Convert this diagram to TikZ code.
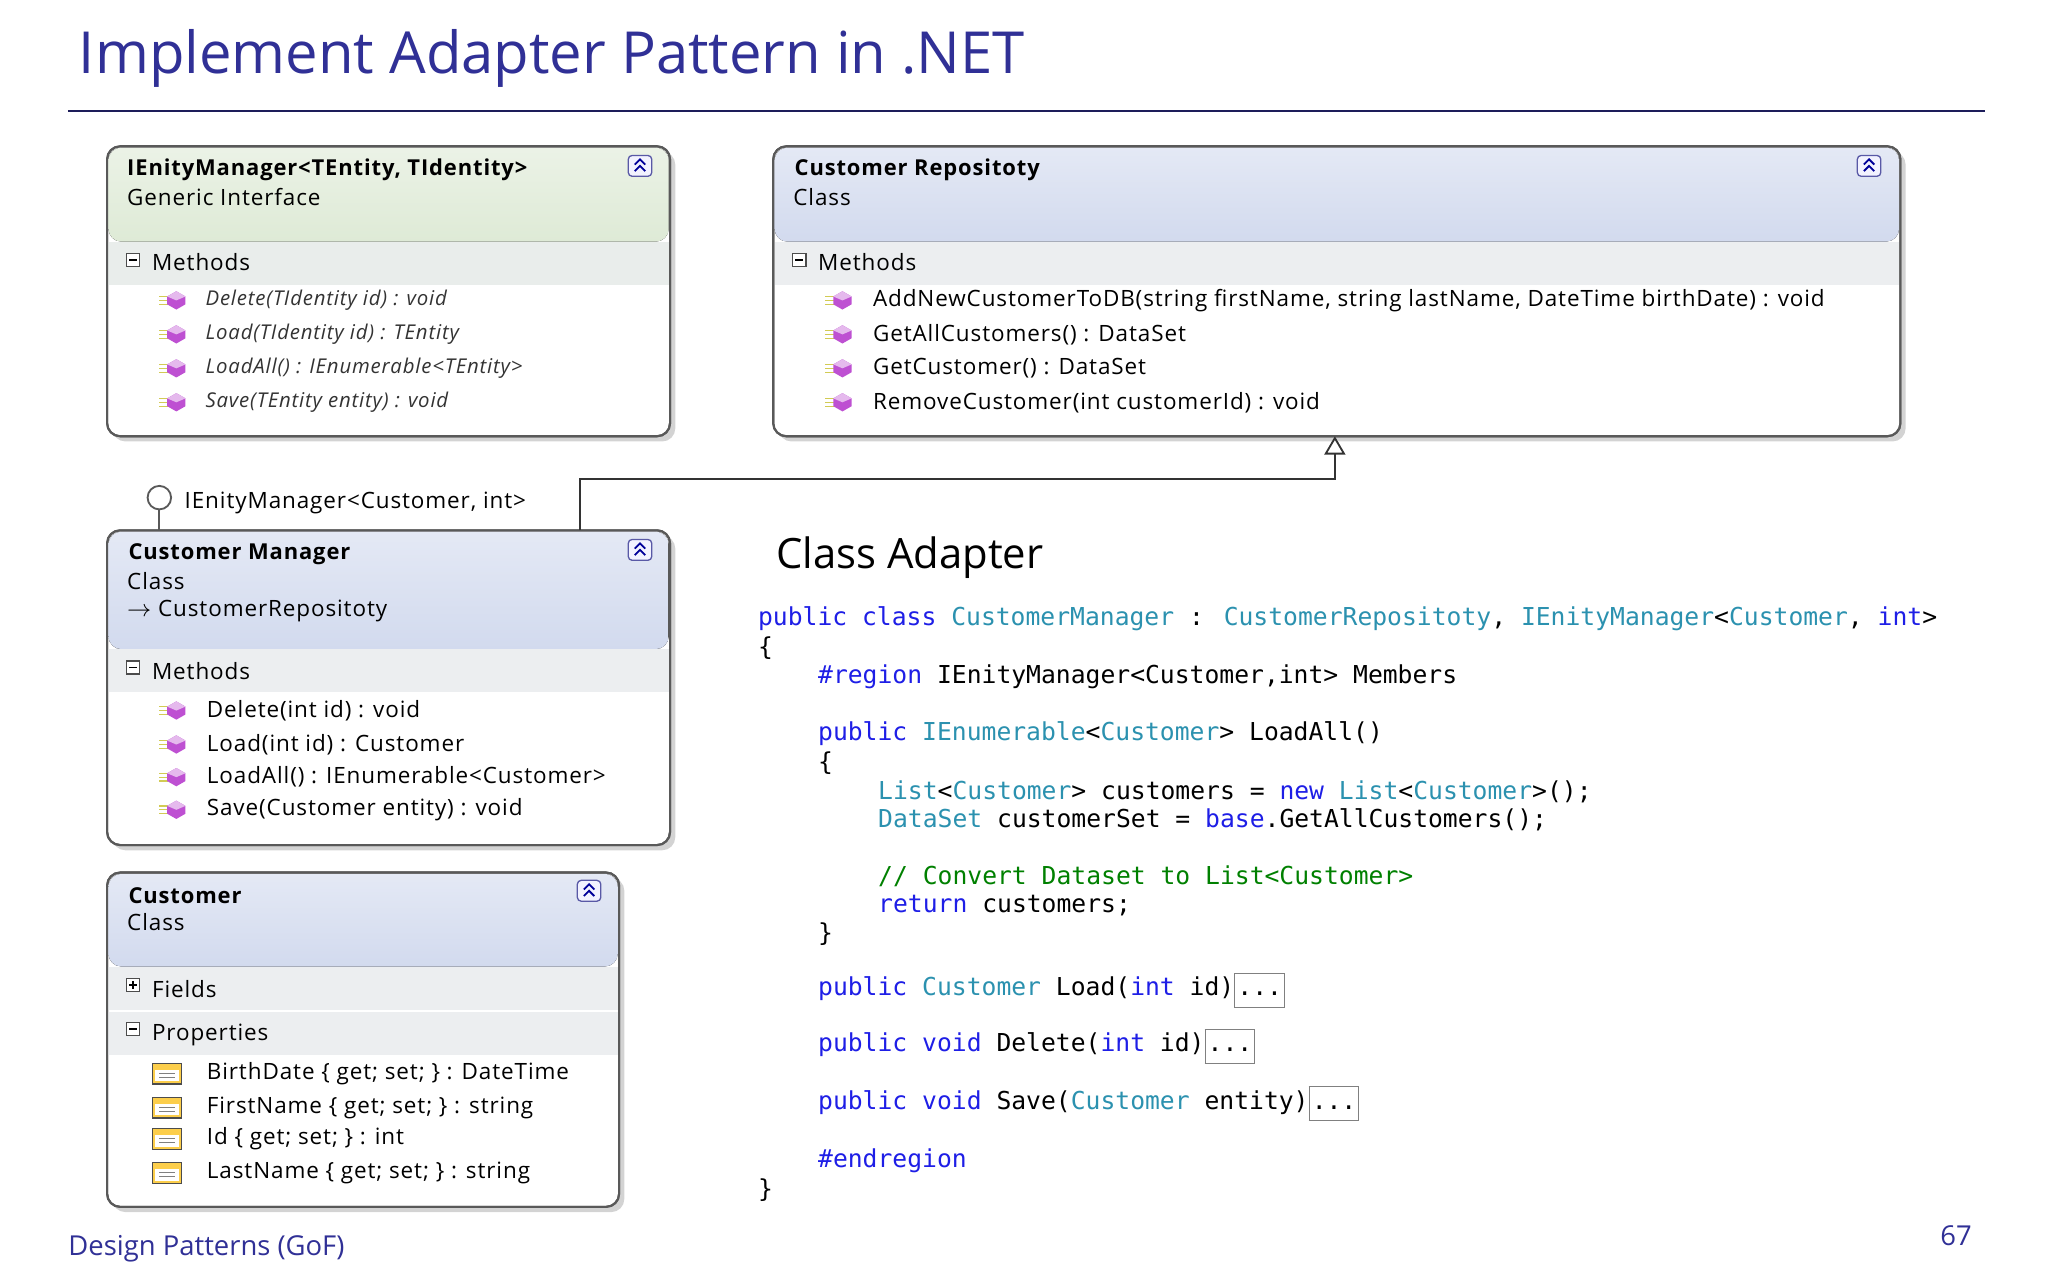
\documentclass[tikz,border=0pt]{standalone}
\usepackage{fontspec}
\setmainfont{Open Sans}
\newfontfamily\codefont{DejaVu Sans Mono}
\newfontfamily\boxfont[LetterSpace=4]{Open Sans}
\usetikzlibrary{arrows.meta,shadows}
\definecolor{ttl}{RGB}{48,48,150}
\definecolor{kwc}{RGB}{30,30,230}
\definecolor{tyc}{RGB}{43,145,175}
\definecolor{cmc}{RGB}{0,128,0}
\definecolor{hdgreen}{RGB}{222,234,214}
\definecolor{hdblue}{RGB}{210,218,238}
\definecolor{bar}{RGB}{236,238,240}
\definecolor{purp}{RGB}{190,80,210}
\newcommand{\kw}[1]{\textcolor{kwc}{#1}}
\newcommand{\ty}[1]{\textcolor{tyc}{#1}}
\newcommand{\cm}[1]{\textcolor{cmc}{#1}}
\newcommand{\cbox}{\setlength\fboxsep{0.8pt}\setlength\fboxrule{0.4pt}\fcolorbox{gray}{white}{\strut...}}
\tikzset{
 umlbox/.style={draw=gray!70!black, line width=0.8pt, rounded corners=5pt, fill=white, drop shadow={shadow xshift=2pt,shadow yshift=-2pt,opacity=0.35}},
 boxline/.style={draw=gray!70!black, line width=0.8pt, rounded corners=5pt},
 txt/.style={anchor=west, inner sep=0pt, font=\fontsize{8.6}{9}\boxfont},
 ttxt/.style={anchor=west, inner sep=0pt, font=\fontsize{8.4}{9}\boxfont\bfseries},
 mtxt/.style={anchor=west, inner sep=0pt, font=\fontsize{7.8}{9}\boxfont\itshape, text=black!80},
 code/.style={anchor=west, inner sep=0pt, font=\fontsize{9.45}{11}\codefont},
}
\newcommand{\micon}[2]{%
 \draw[yellow!60!gray, line width=0.5pt] (#1-12,#2-3) -- (#1-5,#2-3) (#1-12,#2) -- (#1-5,#2) (#1-12,#2+3) -- (#1-5,#2+3);
 \fill[purp] (#1+1,#2-7) -- (#1+8,#2-3) -- (#1+8,#2+3) -- (#1+1,#2+7) -- (#1-6,#2+3) -- (#1-6,#2-3) -- cycle;
 \fill[purp!40] (#1+1,#2-7) -- (#1+8,#2-3) -- (#1+1,#2) -- (#1-6,#2-3) -- cycle;}
\newcommand{\picon}[2]{%
 \fill[yellow!50!orange!70] (#1-11,#2-8) rectangle (#1+11,#2+8);
 \draw[gray!60!black, line width=0.5pt] (#1-11,#2-8) rectangle (#1+11,#2+8);
 \fill[white] (#1-9,#2-3) rectangle (#1+9,#2+6);
 \draw[gray, line width=0.4pt] (#1-6,#2) -- (#1+6,#2) (#1-6,#2+3) -- (#1+6,#2+3);}
\newcommand{\chev}[2]{%
 \draw[gray!70!blue, line width=0.5pt, rounded corners=1.5pt, fill=blue!5] (#1-9,#2-8) rectangle (#1+9,#2+8);
 \draw[blue!60!black, line width=0.7pt] (#1-4,#2-1) -- (#1,#2-5) -- (#1+4,#2-1) (#1-4,#2+4) -- (#1,#2) -- (#1+4,#2+4);}
\newcommand{\minus}[2]{\draw[gray!60!black, line width=0.5pt, fill=white] (#1-5,#2-5) rectangle (#1+5,#2+5); \draw[line width=0.6pt] (#1-3,#2) -- (#1+3,#2);}
\newcommand{\plus}[2]{\minus{#1}{#2}\draw[line width=0.6pt] (#1,#2-3) -- (#1,#2+3);}
\begin{document}
\begin{tikzpicture}[x=0.5pt,y=-0.5pt]
\useasboundingbox (0,0) rectangle (1568,980);
\node[anchor=west, inner sep=0pt, text=ttl, font=\fontsize{22.2}{26}\selectfont] (title) at (60,45) {Implement Adapter Pattern in .NET};
\draw[ttl!60!black, line width=0.8pt] (52,85) -- (1520,85);
% Box 1
\path[umlbox] (82,112) rectangle (513,334);
\fill[top color=hdgreen!60, bottom color=hdgreen, rounded corners=5pt] (83,113) rectangle (512,185);
\fill[bar!80!hdgreen] (83,185) rectangle (512,218);
\path[boxline] (82,112) rectangle (513,334);
\node[ttxt] (b1t) at (97,130) {IEnityManager<TEntity, TIdentity>};
\node[txt] (b1s) at (97,151) {Generic Interface};
\chev{490}{127}
\minus{102}{199}
\node[txt] (b1m) at (116,201) {Methods};
\foreach \y/\t in {230/{Delete(TIdentity id) : void},256/{Load(TIdentity id) : TEntity},282/{LoadAll() : IEnumerable<TEntity>},308/{Save(TEntity entity) : void}}{
 \micon{134}{\y}
 \node[mtxt] at (157,\y) {\t};}
% Box 2
\path[umlbox] (592,112) rectangle (1455,334);
\fill[top color=hdblue!60, bottom color=hdblue, rounded corners=5pt] (593,113) rectangle (1454,185);
\fill[bar] (593,185) rectangle (1454,218);
\path[boxline] (592,112) rectangle (1455,334);
\node[ttxt] (b2t) at (608,130) {Customer Repositoty};
\node[txt] (b2s) at (607,151) {Class};
\chev{1431}{127}
\minus{612}{199}
\node[txt] (b2m) at (626,201) {Methods};
\foreach \y/\t in {230/{AddNewCustomerToDB(string firstName, string lastName, DateTime birthDate) : void},256/{GetAllCustomers() : DataSet},282/{GetCustomer() : DataSet},308/{RemoveCustomer(int customerId) : void}}{
 \micon{644}{\y}
 \node[txt] at (668,\y) {\t};}
% Box 3
\path[umlbox] (82,406) rectangle (513,647);
\fill[top color=hdblue!60, bottom color=hdblue, rounded corners=5pt] (83,407) rectangle (512,497);
\fill[bar] (83,497) rectangle (512,530);
\path[boxline] (82,406) rectangle (513,647);
\node[ttxt] (b3t) at (98,424) {Customer Manager};
\node[txt] (b3s) at (97,445) {Class};
\node[txt] (b3p) at (97,468) {$\rightarrow$ CustomerRepositoty};
\chev{490}{421}
\minus{102}{511}
\node[txt] (b3m) at (116,514) {Methods};
\foreach \y/\t in {544/{Delete(int id) : void},570/{Load(int id) : Customer},595/{LoadAll() : IEnumerable<Customer>},620/{Save(Customer entity) : void}}{
 \micon{134}{\y}
 \node[txt] at (158,\y) {\t};}
% Box 4
\path[umlbox] (82,668) rectangle (474,924);
\fill[top color=hdblue!60, bottom color=hdblue, rounded corners=5pt] (83,669) rectangle (473,740);
\fill[bar] (83,740) rectangle (473,773);
\fill[bar] (83,775) rectangle (473,808);
\path[boxline] (82,668) rectangle (474,924);
\node[ttxt] (b4t) at (98,686) {Customer};
\node[txt] (b4s) at (97,706) {Class};
\chev{451}{682}
\plus{102}{754}
\node[txt] (b4f) at (116,757) {Fields};
\minus{102}{788}
\node[txt] (b4p) at (116,792) {Properties};
\foreach \y/\t in {822/{BirthDate \{ get; set; \} : DateTime},848/{FirstName \{ get; set; \} : string},872/{Id \{ get; set; \} : int},898/{LastName \{ get; set; \} : string}}{
 \picon{128}{\y}
 \node[txt] at (158,\y) {\t};}
% connectors
\coordinate (lol) at (122,381);
\draw[gray!70!black, line width=0.7pt] (122,390) -- (122,406);
\draw[gray!70!black, line width=0.7pt, fill=white] (lol) circle (9);
\node[txt] (lolt) at (141,385) {IEnityManager<Customer, int>};
\draw[black!80, line width=0.7pt, -{Triangle[open,length=7pt,width=8pt]}] (444,406) |- (1022,367) -- (1022,334);
% Code
\node[anchor=west, inner sep=0pt, font=\fontsize{16}{18}\selectfont] (ca) at (594,427) {Class Adapter};
\node[code] at (580,474) {\kw{public} \kw{class} \ty{CustomerManager} : \ty{CustomerRepositoty}, \ty{IEnityManager}<\ty{Customer}, \kw{int}>};
\node[code] at (580,496) {\{};
\node[code] at (626,518) {\kw{\#region} IEnityManager<Customer,int> Members};
\node[code] at (626,562) {\kw{public} \ty{IEnumerable}<\ty{Customer}> LoadAll()};
\node[code] at (626,584) {\{};
\node[code] at (672,606) {\ty{List}<\ty{Customer}> customers = \kw{new} \ty{List}<\ty{Customer}>();};
\node[code] at (672,628) {\ty{DataSet} customerSet = \kw{base}.GetAllCustomers();};
\node[code] at (672,671) {\cm{// Convert Dataset to List<Customer>}};
\node[code] at (672,693) {\kw{return} customers;};
\node[code] at (626,715) {\}};
\node[code] at (626,758) {\kw{public} \ty{Customer} Load(\kw{int} id)\cbox};
\node[code] at (626,801) {\kw{public} \kw{void} Delete(\kw{int} id)\cbox};
\node[code] at (626,845) {\kw{public} \kw{void} Save(\ty{Customer} entity)\cbox};
\node[code] at (626,889) {\kw{\#endregion}};
\node[code] at (580,911) {\}};
% footer
\node[anchor=west, inner sep=0pt, text=ttl, font=\fontsize{10.5}{12}\selectfont] (foot) at (52,956) {Design Patterns (GoF)};
\node[anchor=east, inner sep=0pt, text=ttl, font=\fontsize{10.5}{12}\selectfont] (pg) at (1510,946) {67};
\end{tikzpicture}
\end{document}
